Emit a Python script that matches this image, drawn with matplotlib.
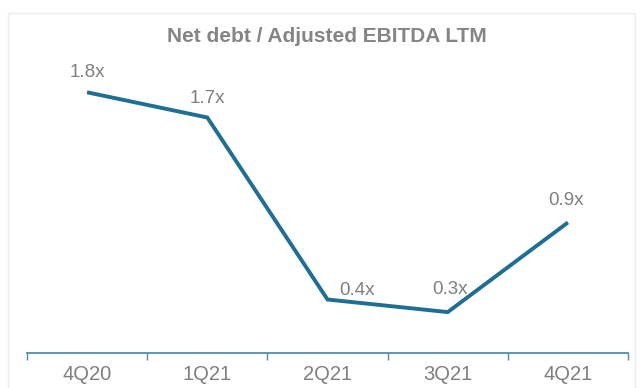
import matplotlib
matplotlib.use("Agg")
import matplotlib.pyplot as plt
from matplotlib.patches import Rectangle

categories = ["4Q20", "1Q21", "2Q21", "3Q21", "4Q21"]
values = [1.86, 1.68, 0.38, 0.29, 0.93]
value_labels = ["1.8x", "1.7x", "0.4x", "0.3x", "0.9x"]
title = "Net debt / Adjusted EBITDA LTM"

plt.rcParams['font.family'] = ['Liberation Sans', 'DejaVu Sans']

W, H = 643, 388
fig = plt.figure(figsize=(W / 100, H / 100), dpi=100)
fig.patch.set_facecolor("white")

# faint outer frame
fig.add_artist(Rectangle((8 / W, -0.05), (635 - 8) / W, (H - 13) / H + 0.05,
                         transform=fig.transFigure, fill=False,
                         edgecolor="#ececec", linewidth=1.0))

left, right = 27 / W, 628 / W
bottom = (H - 352.7) / H
top_px = 72.7
ax = fig.add_axes([left, bottom, right - left, (352.7 - top_px) / H])

line_color = "#1f6e93"
x = list(range(len(categories)))
ax.plot(x, values, color=line_color, linewidth=2.8, solid_joinstyle="miter",
        solid_capstyle="butt", zorder=3)

# label offsets in pixels -> points
px = 72 / 100
offsets = [(0, 20), (0, 19), (29, 9), (2, 23), (-2, 22)]
for xi, v, lab, off in zip(x, values, value_labels, offsets):
    ax.annotate(lab, (xi, v), xytext=(off[0] * px, off[1] * px),
                textcoords="offset points",
                ha="center", va="center", fontsize=13.5, color="#7f7f7f")

ax.set_xlim(-0.5, len(categories) - 0.5)
ax.set_ylim(0, 2.0)
ax.set_yticks([])
ax.set_xticks([i + 0.5 for i in range(-1, len(categories))], minor=False)
ax.set_xticklabels([])
ax.set_xticks(x, minor=True)
ax.set_xticklabels(categories, minor=True)
ax.tick_params(axis="x", which="major", length=5, width=1.0, color="#5a8aa3",
               direction="out")
ax.tick_params(axis="x", which="minor", length=0, pad=9, labelsize=14.5,
               labelcolor="#7f7f7f")
for s in ["top", "right", "left"]:
    ax.spines[s].set_visible(False)
ax.spines["bottom"].set_color("#3f86a6")
ax.spines["bottom"].set_linewidth(1.2)
ax.patch.set_alpha(0)

fig.text(327 / W, 1 - 37 / H, title, ha="center", va="center",
         fontsize=15, fontweight="bold", color="#858585")

fig.savefig("out.png", dpi=100)
